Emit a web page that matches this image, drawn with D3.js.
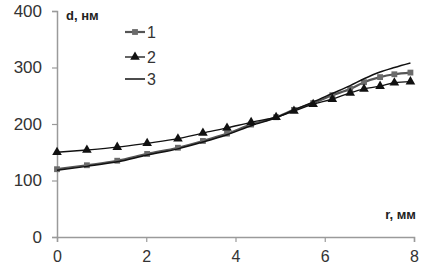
<!DOCTYPE html>
<html>
<head>
<meta charset="utf-8">
<script src="https://cdn.jsdelivr.net/npm/d3@7"></script>
<style>
    html, body { margin: 0; padding: 0; background: #fff; }
</style>
</head>
<body>
<script>
// r, mm (marker positions)
const rValues = [0, 0.67, 1.35, 2.02, 2.71, 3.27, 3.81, 4.35, 4.91, 5.31, 5.74, 6.17, 6.57, 6.88, 7.24, 7.56, 7.92]
// d, nm for each series
const series1 = [120, 127, 135, 147, 158, 170, 183, 199, 212, 225, 237, 251, 262, 274, 283, 288, 291]
const series2 = [150, 154, 159, 166, 174, 184, 193, 203, 212, 223, 235, 244, 255, 262, 267, 273, 275]
const series3 = [118, 125, 133, 145, 156, 168, 181, 197, 211, 225, 239, 254, 268, 280, 292, 300, 308]
const seriesNames = ['1', '2', '3']
const xTicks = [0, 2, 4, 6, 8]
const yTicks = [0, 100, 200, 300, 400]

const config = {
    w: 435,
    h: 270,
    margin: { top: 11, right: 21, bottom: 33, left: 57 },
    axisColor: '#9a9a9a',
    textColor: '#333',
    font: '"Liberation Sans", Arial, sans-serif',
}

const innerW = config.w - config.margin.left - config.margin.right
const innerH = config.h - config.margin.top - config.margin.bottom

const svg = d3
    .select('body')
    .append('svg')
    .attr('width', config.w)
    .attr('height', config.h)
    .style('font-family', config.font)

const plot = svg
    .append('g')
    .attr('transform', `translate(${config.margin.left}, ${config.margin.top})`)

// Scales
const x = d3.scaleLinear().domain([0, 8]).range([0, innerW])
const y = d3.scaleLinear().domain([0, 400]).range([innerH, 0])

// Axes
const xAxis = d3.axisBottom(x).tickValues(xTicks).tickSize(5).tickPadding(8)
const yAxis = d3.axisLeft(y).tickValues(yTicks).tickSize(5).tickPadding(10)

const gx = plot
    .append('g')
    .attr('transform', `translate(0, ${innerH})`)
    .call(xAxis)

const gy = plot.append('g').call(yAxis)

;[gx, gy].forEach((g) => {
    g.select('.domain').attr('stroke', config.axisColor).attr('stroke-width', 1.5)
    g.selectAll('.tick line').attr('stroke', config.axisColor).attr('stroke-width', 1.2)
    g.selectAll('text')
        .attr('fill', config.textColor)
        .style('font-size', '17px')
        .style('font-family', config.font)
})
gx.selectAll('text').style('font-size', '16px').attr('dy', '0.78em')

// Axis titles
plot.append('text')
    .attr('x', 9)
    .attr('y', 9)
    .attr('fill', '#222')
    .style('font-size', '13px')
    .style('font-weight', 'bold')
    .text('d, нм')

plot.append('text')
    .attr('x', innerW + 2)
    .attr('y', innerH - 18)
    .attr('text-anchor', 'end')
    .attr('fill', '#222')
    .style('font-size', '13px')
    .style('font-weight', 'bold')
    .text('r, мм')

// Lines
const line = (values) =>
    d3
        .line()
        .x((d, i) => x(rValues[i]))
        .y((d) => y(d))
        .curve(d3.curveMonotoneX)(values)

const styles = [
    { values: series1, stroke: '#555', width: 2.2, marker: 'square', fill: '#6b6b6b' },
    { values: series2, stroke: '#111', width: 1.3, marker: 'triangle', fill: '#111' },
    { values: series3, stroke: '#111', width: 1.5, marker: null },
]

const symbolFor = (m) =>
    m === 'square'
        ? d3.symbol().type(d3.symbolSquare).size(34)
        : d3.symbol().type(d3.symbolTriangle).size(40)

styles.forEach((s) => {
    plot.append('path')
        .attr('d', line(s.values))
        .attr('fill', 'none')
        .attr('stroke', s.stroke)
        .attr('stroke-width', s.width)

    if (s.marker) {
        plot.append('g')
            .selectAll('path')
            .data(s.values)
            .join('path')
            .attr('transform', (d, i) => `translate(${x(rValues[i])}, ${y(d)})`)
            .attr('d', symbolFor(s.marker))
            .attr('fill', s.fill)
    }
})

// Legend
const legend = svg.append('g').attr('transform', 'translate(125, 32)')
const legendY = [0, 25, 47]

styles.forEach((s, i) => {
    const row = legend.append('g').attr('transform', `translate(0, ${legendY[i]})`)
    row.append('line')
        .attr('x1', 0)
        .attr('x2', 20)
        .attr('stroke', s.stroke)
        .attr('stroke-width', s.width)
    if (s.marker) {
        row.append('path')
            .attr('transform', 'translate(10, 0)')
            .attr('d', symbolFor(s.marker))
            .attr('fill', s.fill)
    }
    row.append('text')
        .attr('x', 22)
        .attr('dy', '0.36em')
        .attr('fill', config.textColor)
        .style('font-size', '16px')
        .text(seriesNames[i])
})
</script>
</body>
</html>
